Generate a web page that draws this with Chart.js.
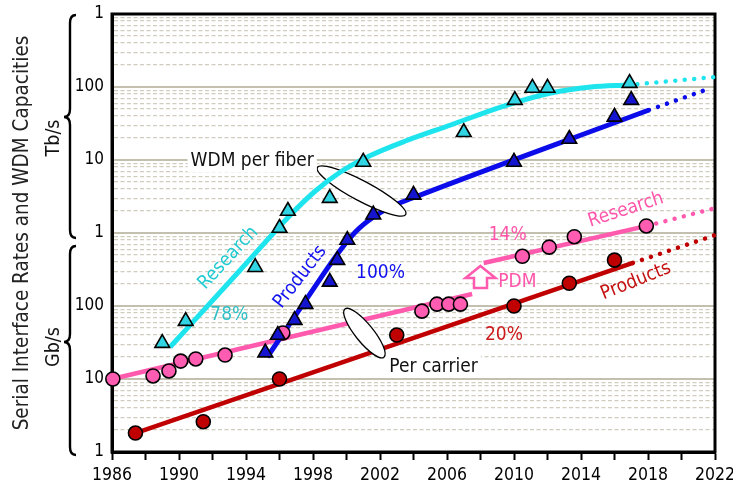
<!DOCTYPE html>
<html><head><meta charset="utf-8">
<script src="https://cdn.jsdelivr.net/npm/chart.js@4"></script>
<style>html,body{margin:0;padding:0;background:#fff}</style>
</head><body>
<canvas id="c" width="733" height="490"></canvas>
<script>
// ---------- data (years, values in Gb/s) ----------
const wdmResearchYears  = [1989.0, 1990.4, 1994.55, 1996.0, 1996.5, 1999.0, 2001.0, 2007.0, 2010.05, 2011.1, 2012.0, 2016.9];
const wdmResearchValues = [31, 62, 340, 1170, 2000, 3000, 9400, 24000, 66000, 97000, 97000, 113000];

const wdmProductYears  = [1995.15, 1995.9, 1996.9, 1997.55, 1999.0, 1999.45, 2000.05, 2001.6, 2004.0, 2010.0, 2013.3, 2016.0, 2017.0];
const wdmProductValues = [23, 40, 64, 106, 214, 425, 800, 1780, 3330, 9400, 19400, 39000, 66000];

const carrierResearchYears  = [1986.05, 1988.45, 1989.4, 1990.1, 1991.0, 1992.75, 1996.2, 2004.5, 2005.4, 2006.1, 2006.8, 2010.5, 2012.1, 2013.6, 2017.9];
const carrierResearchValues = [10, 11, 12.9, 17.6, 18.8, 21.3, 42.7, 85, 106, 106, 106, 480, 640, 890, 1250];

const carrierProductYears  = [1987.4, 1991.45, 1996.0, 2003.0, 2010.0, 2013.3, 2016.0];
const carrierProductValues = [1.82, 2.6, 10, 40, 100, 205, 425];

// trend curves
const wdmResearchFitYears  = [1989.47, 1993.66, 1996.65, 1998.14, 1999.64, 2001.43, 2003.52, 2006.22, 2009.21, 2012.2, 2014.59, 2016.8];
const wdmResearchFitValues = [27.4, 311, 1765, 3760, 6850, 11530, 18200, 30150, 53200, 82800, 100000, 106500];
const wdmResearchProjYears  = [2016.8, 2022.0];
const wdmResearchProjValues = [106500, 137000];

const wdmProductFitYears  = [1995.27, 1997.66, 1999.64, 2000.59, 2001.61, 2002.75, 2003.94, 2018.06];
const wdmProductFitValues = [20, 129, 585, 1065, 1655, 2340, 3015, 48400];
const wdmProductProjYears  = [2018.06, 2021.6];
const wdmProductProjValues = [48400, 94000];

const carrierResearchFit1Years  = [1986.0, 2007.5];
const carrierResearchFit1Values = [10, 146];
const carrierResearchFit2Years  = [2008.19, 2017.94];
const carrierResearchFit2Values = [388, 1250];
const carrierResearchProjYears  = [2017.94, 2022.0];
const carrierResearchProjValues = [1250, 2190];

const carrierProductFitYears  = [1987.4, 2017.1];
const carrierProductFitValues = [1.82, 389];
const carrierProductProjYears  = [2017.1, 2022.0];
const carrierProductProjValues = [389, 935];

// tick labels
const xTickLabelYears = [1986, 1990, 1994, 1998, 2002, 2006, 2010, 2014, 2018, 2022];
const yDecadeLabels = ['1', '10', '100', '1', '10', '100', '1'];

// ---------- helpers ----------
const FONT = '"DejaVu Sans Condensed", "DejaVu Sans", sans-serif';
const pts = (xs, ys) => xs.map((x, i) => ({x: x, y: ys[i]}));
const isDecade = v => { const l = Math.log10(v); return Math.abs(l - Math.round(l)) < 1e-9; };

const C = {
  cyanLine: '#1ee4ee', cyanFill: '#30d4e2',
  blueLine: '#0c0ceb', blueFill: '#1515cf',
  pinkLine: '#ff5aae', pinkFill: '#ff5cb2',
  redLine: '#c00000', redFill: '#c00000'
};

function markerSet(label, xs, ys, style, fill, r) {
  return { label, data: pts(xs, ys), showLine: false, pointStyle: style, pointRadius: r,
    pointBackgroundColor: fill, pointBorderColor: '#000', pointBorderWidth: 1.6, clip: false };
}
function lineSet(label, xs, ys, color, w, curved) {
  return { label, data: pts(xs, ys), showLine: true, pointRadius: 0, borderColor: color,
    borderWidth: w, cubicInterpolationMode: curved ? 'monotone' : 'default', borderCapStyle: 'butt', clip: false };
}
function dotSet(label, xs, ys, color) {
  return { label, data: pts(xs, ys), showLine: true, pointRadius: 0, borderColor: color,
    borderWidth: 4.5, borderDash: [0.01, 9.5], borderCapStyle: 'round', clip: false };
}

const datasets = [
  markerSet('WDM research', wdmResearchYears, wdmResearchValues, 'triangle', C.cyanFill, 8.5),
  markerSet('WDM products', wdmProductYears, wdmProductValues, 'triangle', C.blueFill, 8.5),
  markerSet('Carrier research', carrierResearchYears, carrierResearchValues, 'circle', C.pinkFill, 7),
  markerSet('Carrier products', carrierProductYears, carrierProductValues, 'circle', C.redFill, 7),
  lineSet('WDM research fit', wdmResearchFitYears, wdmResearchFitValues, C.cyanLine, 5, true),
  dotSet('WDM research proj', wdmResearchProjYears, wdmResearchProjValues, C.cyanLine),
  lineSet('WDM products fit', wdmProductFitYears, wdmProductFitValues, C.blueLine, 5, true),
  dotSet('WDM products proj', wdmProductProjYears, wdmProductProjValues, C.blueLine),
  lineSet('Carrier research fit 1', carrierResearchFit1Years, carrierResearchFit1Values, C.pinkLine, 4.5, false),
  lineSet('Carrier research fit 2', carrierResearchFit2Years, carrierResearchFit2Values, C.pinkLine, 4.5, false),
  dotSet('Carrier research proj', carrierResearchProjYears, carrierResearchProjValues, C.pinkLine),
  lineSet('Carrier products fit', carrierProductFitYears, carrierProductFitValues, C.redLine, 4.5, false),
  dotSet('Carrier products proj', carrierProductProjYears, carrierProductProjValues, C.redLine)
];
const ELLIPSE_AFTER_INDEX = 6;

// annotations (anchored in data coordinates)
const NOTE_SIZE = 19;
const notes = [
  { text: 'Research', x: 1992.94, y: 455, color: '#22cad2', rot: -47 },
  { text: '78%', x: 1993.0, y: 75, color: '#2fbfc4', rot: 0 },
  { text: 'Products', x: 1997.24, y: 250, color: '#1212ee', rot: -52 },
  { text: '100%', x: 2002.03, y: 283, color: '#1212ee', rot: 0 },
  { text: 'WDM per fiber', x: 1994.37, y: 9700, color: '#111', rot: 0, bg: true },
  { text: 'Per carrier', x: 2005.2, y: 14.6, color: '#111', rot: 0, bg: true },
  { text: '14%', x: 2009.62, y: 940, color: '#ff55aa', rot: 0 },
  { text: 'PDM', x: 2010.2, y: 213, color: '#ff55aa', rot: 0 },
  { text: 'Research', x: 2016.68, y: 2070, color: '#ff55aa', rot: -18 },
  { text: '20%', x: 2009.4, y: 40, color: '#cc1a1a', rot: 0 },
  { text: 'Products', x: 2017.28, y: 219, color: '#c41010', rot: -22 }
];
const ellipses = [
  { x: 2000.9, y: 3760, rx: 50, ry: 10, rot: 28 },
  { x: 2001.07, y: 42.6, rx: 31, ry: 9, rot: 51 }
];
const pdmArrow = { x: 2008.0, y: 250, color: '#ff5aae' };

const overlay = {
  id: 'overlay',
  beforeDatasetsDraw(chart) {
    const {ctx, chartArea: a} = chart;
    ctx.save();
    ctx.lineWidth = 3; ctx.strokeStyle = '#000';
    ctx.strokeRect(a.left, a.top, a.right - a.left, a.bottom - a.top);
    ctx.restore();
  },
  afterDatasetDraw(chart, args) {
    if (args.index !== ELLIPSE_AFTER_INDEX) return;
    const ctx = chart.ctx, sx = chart.scales.x, sy = chart.scales.y;
    ellipses.forEach(e => {
      ctx.save();
      ctx.beginPath();
      ctx.ellipse(sx.getPixelForValue(e.x), sy.getPixelForValue(e.y), e.rx, e.ry, e.rot * Math.PI / 180, 0, 2 * Math.PI);
      ctx.fillStyle = '#fff'; ctx.fill();
      ctx.lineWidth = 1.3; ctx.strokeStyle = '#000'; ctx.stroke();
      ctx.restore();
    });
  },
  afterDatasetsDraw(chart) {
    const ctx = chart.ctx, sx = chart.scales.x, sy = chart.scales.y;
    notes.forEach(n => {
      const x = sx.getPixelForValue(n.x), y = sy.getPixelForValue(n.y);
      ctx.save();
      ctx.translate(x, y); ctx.rotate(n.rot * Math.PI / 180);
      ctx.font = NOTE_SIZE + 'px ' + FONT; ctx.textAlign = 'center'; ctx.textBaseline = 'middle';
      if (n.bg) {
        const w = ctx.measureText(n.text).width;
        ctx.fillStyle = '#fff'; ctx.fillRect(-w / 2 - 3, -11, w + 6, 22);
      }
      ctx.fillStyle = n.color; ctx.fillText(n.text, 0, 0);
      ctx.restore();
    });
    // PDM hollow arrow
    const ax = sx.getPixelForValue(pdmArrow.x), ay = sy.getPixelForValue(pdmArrow.y);
    ctx.save();
    ctx.beginPath();
    ctx.moveTo(ax, ay - 11); ctx.lineTo(ax + 15, ay + 1); ctx.lineTo(ax + 6.5, ay + 1);
    ctx.lineTo(ax + 6.5, ay + 11); ctx.lineTo(ax - 6.5, ay + 11); ctx.lineTo(ax - 6.5, ay + 1);
    ctx.lineTo(ax - 15, ay + 1); ctx.closePath();
    ctx.fillStyle = '#fff'; ctx.fill();
    ctx.lineWidth = 2.5; ctx.strokeStyle = pdmArrow.color; ctx.lineJoin = 'miter'; ctx.stroke();
    ctx.restore();
  },
  afterDraw(chart) {
    const ctx = chart.ctx, sy = chart.scales.y;
    const brace = (x, top, bottom, tip) => {
      ctx.beginPath();
      ctx.moveTo(x + 6, top);
      ctx.quadraticCurveTo(x, top, x, top + 8);
      ctx.lineTo(x, tip - 8);
      ctx.quadraticCurveTo(x, tip, x - 6, tip);
      ctx.quadraticCurveTo(x, tip, x, tip + 8);
      ctx.lineTo(x, bottom - 8);
      ctx.quadraticCurveTo(x, bottom, x + 6, bottom);
      ctx.stroke();
    };
    ctx.save();
    ctx.lineWidth = 2.4; ctx.strokeStyle = '#000';
    const t1 = sy.getPixelForValue(1e6) + 1, m1 = sy.getPixelForValue(1000) + 5;
    const b2 = sy.getPixelForValue(1) + 3;
    brace(70, t1, m1, 117);
    brace(70, m1 + 8, b2, 342);
    ctx.font = '19.5px ' + FONT; ctx.fillStyle = '#111'; ctx.textAlign = 'center'; ctx.textBaseline = 'middle';
    [['Tb/s', 138], ['Gb/s', 347]].forEach(([t, y]) => {
      ctx.save(); ctx.translate(54, y); ctx.rotate(-Math.PI / 2); ctx.fillText(t, 0, 0); ctx.restore();
    });
    ctx.restore();
  }
};

new Chart(document.getElementById('c'), {
  type: 'scatter',
  data: { datasets },
  options: {
    responsive: false, animation: false, devicePixelRatio: 1,
    layout: { padding: { top: 14, right: 18, bottom: 0, left: 0 } },
    plugins: { legend: { display: false }, tooltip: { enabled: false } },
    scales: {
      x: {
        type: 'linear', min: 1986, max: 2022,
        afterFit: s => { s.height = 38; s.paddingLeft = 0; s.paddingRight = 0; },
        ticks: { stepSize: 2, autoSkip: false, maxRotation: 0, padding: 5, color: '#000',
          font: { family: FONT, size: 17.5 },
          callback: v => xTickLabelYears.includes(v) ? String(v) : '' },
        grid: { drawOnChartArea: false, drawTicks: true, tickLength: 8, tickColor: '#000', tickWidth: 2 },
        border: { display: true, color: '#000', width: 3 }
      },
      y: {
        type: 'logarithmic', min: 1, max: 1e6,
        afterFit: s => { s.width = 112; s.paddingTop = 0; s.paddingBottom = 0; },
        afterBuildTicks: s => {
          const t = [];
          for (let e = 0; e < 6; e++) for (let m = 1; m < 10; m++) t.push({ value: m * Math.pow(10, e) });
          t.push({ value: 1e6 });
          s.ticks = t;
        },
        ticks: { autoSkip: false, padding: 8, color: '#000', font: { family: FONT, size: 17 },
          callback: v => isDecade(v) ? yDecadeLabels[Math.round(Math.log10(v))] : '' },
        grid: { drawTicks: false,
          color: c => (c.tick && isDecade(c.tick.value)) ? '#c4c0b0' : '#d0ccbe',
          lineWidth: c => (c.tick && isDecade(c.tick.value)) ? 2 : 1.3 },
        border: { display: true, color: '#000', width: 3,
          dash: c => (c.tick && !isDecade(c.tick.value)) ? [4, 2.5] : [] },
        title: { display: true, text: 'Serial Interface Rates and WDM Capacities', color: '#222',
          font: { family: FONT, size: 20.5 }, padding: { top: 10.5, bottom: 0 } }
      }
    }
  },
  plugins: [overlay]
});
</script>
</body></html>
